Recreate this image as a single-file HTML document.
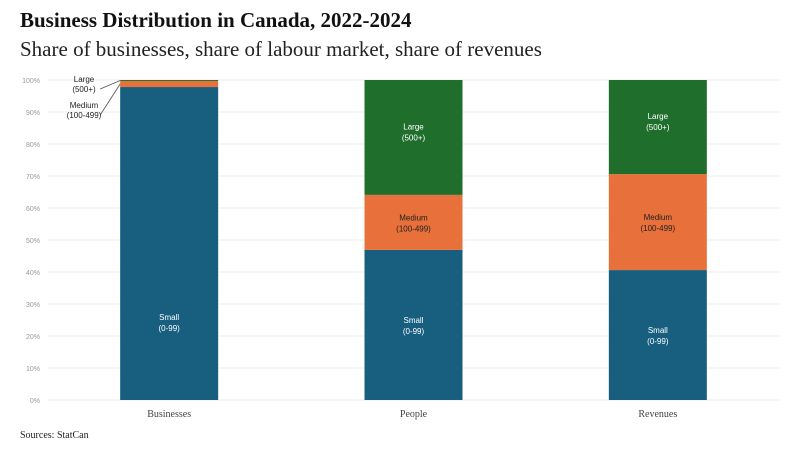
<!DOCTYPE html>
<html><head><meta charset="utf-8"><style>
body{margin:0;width:800px;height:450px;background:#fff;overflow:hidden;font-family:"Liberation Serif",serif}
#t{position:absolute;left:20px;top:8px;font-size:21px;font-weight:bold;color:#111}
#s{position:absolute;left:20px;top:37px;font-size:21px;color:#222}
#src{position:absolute;left:20px;top:430px;font-size:10px;color:#222}
</style></head><body>
<div id="t">Business Distribution in Canada, 2022-2024</div>
<div id="s">Share of businesses, share of labour market, share of revenues</div>
<div id="src">Sources: StatCan</div>
<svg id="c" width="800" height="450" style="position:absolute;left:0;top:0"></svg>
<script>
const categories=["Businesses","People","Revenues"];
const small=[97.8,46.9,40.6];
const medium=[1.9,17.2,30.0];
const large=[0.3,35.9,29.4];
const ticks=[0,10,20,30,40,50,60,70,80,90,100];
const svg=document.getElementById('c');const NS='http://www.w3.org/2000/svg';
const x0=47,x1=780,y0=400,y1=80;
const band=(x1-x0)/categories.length,bw=98;
const y=v=>y0-(v/100)*(y0-y1);
const cx=i=>x0+band*(i+0.5);
function el(t,a,p){const e=document.createElementNS(NS,t);for(const k in a)e.setAttribute(k,a[k]);(p||svg).appendChild(e);return e;}
ticks.forEach(v=>{
const l=el('line',{x1:x0,x2:x1,y1:y(v),y2:y(v),stroke:'#ececec','stroke-width':1});


const t=el('text',{x:40,y:y(v)+3,'text-anchor':'end','font-size':7,fill:'#999','font-family':'Liberation Sans,sans-serif'});
t.textContent=v+'%';


});
const series=[{d:small,c:'#175e7f',n:'Small',r:'(0-99)',tc:'#fff'},{d:medium,c:'#e8703a',n:'Medium',r:'(100-499)',tc:'#222'},{d:large,c:'#1f6e2b',n:'Large',r:'(500+)',tc:'#fff'}];
categories.forEach((cat,i)=>{
let base=0;
series.forEach((s,si)=>{
const v=s.d[i];const top=base+v;
const r=el('rect',{x:cx(i)-bw/2,y:y(top),width:bw,height:y(base)-y(top),fill:s.c});


if(v>5){let my=(y(base)+y(top))/2;
if(si===0)my=Math.max(my,y0-78);
if(si===2)my-=6;
[s.n,s.r].forEach((txt,k)=>{const t=el('text',{x:cx(i),y:my-2+k*11,'text-anchor':'middle','font-size':8,fill:s.tc,'font-family':'Liberation Sans,sans-serif'});t.textContent=txt;

});}
base=top;});
const t=el('text',{x:cx(i),y:y0+17,'text-anchor':'middle','font-size':10,fill:'#444'});t.textContent=cat;


});
const bx=cx(0)-bw/2;
const cl=[['Large','(500+)',82,y(100-large[0]/2)],['Medium','(100-499)',108,y(small[0]+medium[0]/2)]];
cl.forEach(([a,b,ty,py])=>{
const l=el('line',{x1:bx-20,y1:ty+7,x2:bx,y2:py,stroke:'#555','stroke-width':0.8});


[a,b].forEach((txt,k)=>{const t=el('text',{x:84,y:ty+k*10,'text-anchor':'middle','font-size':8,fill:'#222','font-family':'Liberation Sans,sans-serif'});t.textContent=txt;

});
});
</script>
</body></html>
